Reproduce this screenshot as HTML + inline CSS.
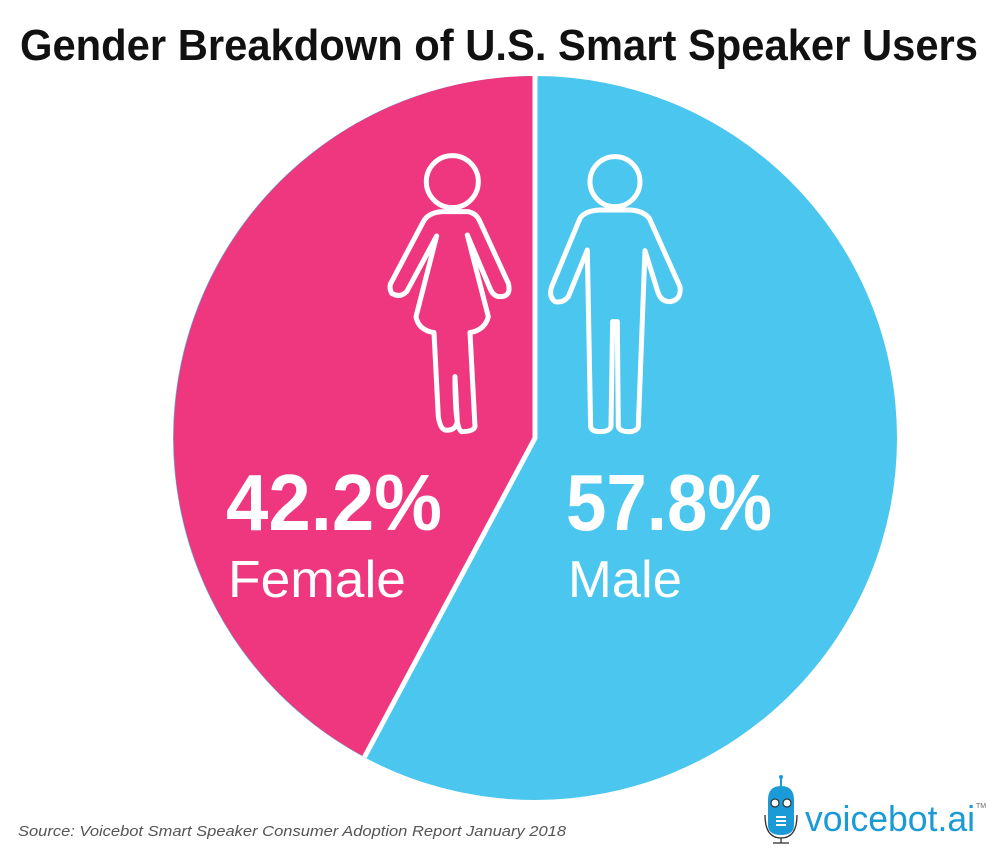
<!DOCTYPE html>
<html><head><meta charset="utf-8"><style>
html,body{margin:0;padding:0;background:#fff;}
svg{display:block;}
</style></head><body>
<svg width="1000" height="854" viewBox="0 0 1000 854" xmlns="http://www.w3.org/2000/svg">
<text x="499" y="60" text-anchor="middle" font-family="Liberation Sans Narrow, Liberation Sans, sans-serif" font-weight="bold" font-size="44" fill="#111" textLength="958" lengthAdjust="spacingAndGlyphs">Gender Breakdown of U.S. Smart Speaker Users</text>
<circle cx="535" cy="438" r="362" fill="#4bc6ee"/>
<path d="M535 438 L535 76 A362 362 0 0 0 364.5 757 Z" fill="#ee377e"/>
<path d="M535 76 L535 438 L364.5 757" fill="none" stroke="#fff" stroke-width="5"/>
<g transform="translate(380 150) scale(0.3333)" fill="none" stroke="#fff" stroke-width="15" stroke-linejoin="round">
<circle cx="217" cy="95" r="78"/>
<path d="M185 185 L265 185 Q290 190 300 215 L385 400 Q395 440 360 440 Q340 440 330 415 L262 255 L325 500 Q315 540 270 548 L285 830 Q280 845 245 845 Q225 840 225 680 L232 815 Q225 845 195 840 Q180 835 175 800 L162 548 Q115 540 108 500 L170 258 L80 425 Q60 445 35 430 Q25 410 35 395 L130 215 Q145 188 185 185 Z"/>
<circle cx="705" cy="95" r="75"/>
<path d="M660 180 L750 180 Q790 182 808 205 L900 410 Q905 450 870 455 Q845 455 835 430 L795 302 L775 830 Q770 845 745 845 Q720 845 715 830 L712 515 L698 515 L693 830 Q688 845 660 845 Q635 845 632 830 L622 300 L565 440 Q550 460 525 455 Q505 440 515 410 L600 205 Q615 182 660 180 Z"/>
</g>
<text x="226" y="530" font-family="Liberation Sans, sans-serif" font-weight="bold" font-size="80" fill="#fff" textLength="216" lengthAdjust="spacingAndGlyphs">42.2%</text>
<text x="228" y="597" font-family="Liberation Sans, sans-serif" font-size="52" fill="#fff" textLength="178" lengthAdjust="spacingAndGlyphs">Female</text>
<text x="566" y="530" font-family="Liberation Sans, sans-serif" font-weight="bold" font-size="80" fill="#fff" textLength="206" lengthAdjust="spacingAndGlyphs">57.8%</text>
<text x="568" y="597" font-family="Liberation Sans, sans-serif" font-size="52" fill="#fff" textLength="114" lengthAdjust="spacingAndGlyphs">Male</text>
<text x="18" y="836" font-family="Liberation Sans, sans-serif" font-style="italic" font-size="15" fill="#555" textLength="548" lengthAdjust="spacingAndGlyphs">Source: Voicebot Smart Speaker Consumer Adoption Report January 2018</text>
<g>
<line x1="781" y1="778" x2="781" y2="787" stroke="#1a9ad6" stroke-width="2"/>
<circle cx="781" cy="777" r="2" fill="#1a9ad6"/>
<path d="M768 800 Q768 786 781 786 Q794 786 794 800 L794 825 Q794 835 781 835 Q768 835 768 825 Z" fill="#1a9ad6"/>
<circle cx="775" cy="803" r="4" fill="#fff" stroke="#333" stroke-width="1.2"/>
<circle cx="787" cy="803" r="4" fill="#fff" stroke="#333" stroke-width="1.2"/>
<rect x="776" y="816" width="10" height="2" fill="#fff"/><rect x="776" y="820" width="10" height="2" fill="#fff"/><rect x="776" y="824" width="10" height="2" fill="#fff"/>
<path d="M765 815 Q765 838 781 838 Q797 838 797 815" fill="none" stroke="#333" stroke-width="1.3"/>
<line x1="781" y1="838" x2="781" y2="843" stroke="#333" stroke-width="1.3"/>
<line x1="773" y1="843" x2="789" y2="843" stroke="#333" stroke-width="1.3"/>
<text x="805" y="831" font-family="Liberation Sans, sans-serif" font-size="36" fill="#1a9ad6" textLength="170" lengthAdjust="spacingAndGlyphs">voicebot.ai</text>
<text x="976" y="808" font-family="Liberation Sans, sans-serif" font-size="7" fill="#666">TM</text>
</g>
</svg>
</body></html>
